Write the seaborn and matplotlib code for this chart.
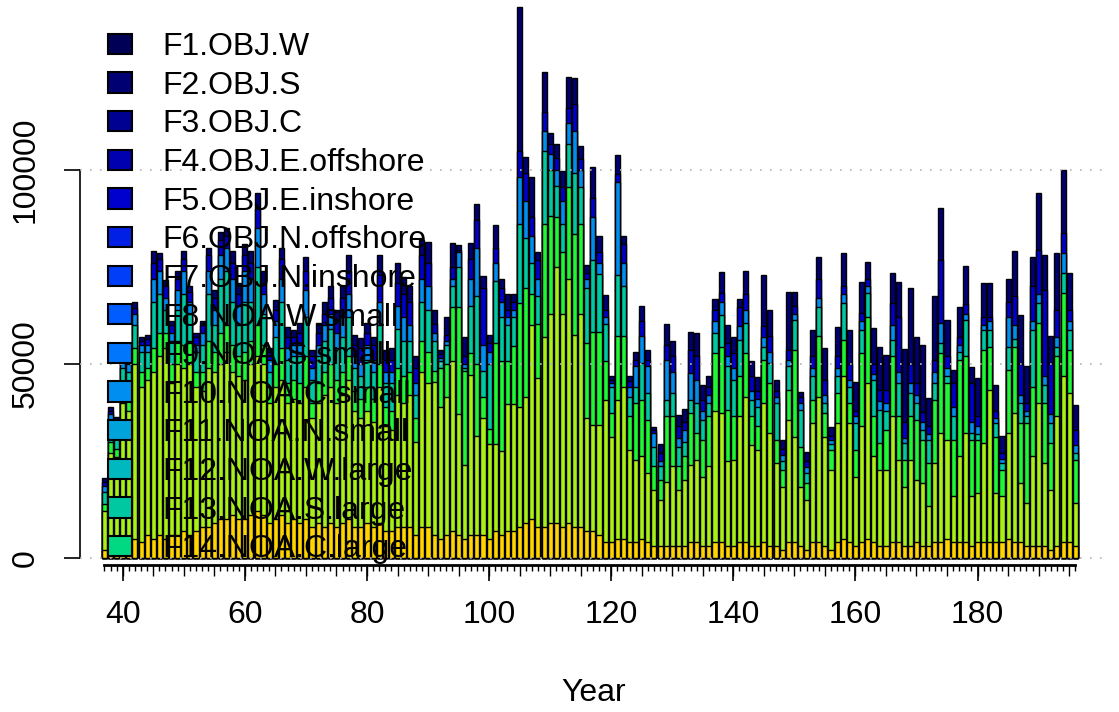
import matplotlib
matplotlib.use("Agg")
import matplotlib.pyplot as plt
from matplotlib.patches import Patch
import pandas as pd
import seaborn as sns

years = list(range(37, 197))

gold_top = [
    2, 3, 3, 4, 4, 5, 4, 6, 5, 6,
    5, 6, 6, 7, 6, 7, 8, 8, 9, 10,
    10, 11, 10, 10, 11, 12, 11, 9, 10, 11,
    9, 10, 9, 10, 8, 9, 8, 9, 8, 9,
    10, 8, 8, 9, 8, 9, 7, 7, 8, 8,
    8, 6, 8, 8, 6, 5, 6, 7, 6, 5,
    6, 6, 6, 5, 7, 6, 7, 7, 8, 9,
    10, 8, 8, 9, 9, 8, 9, 8, 8, 7,
    7, 6, 4, 4, 5, 5, 4, 4, 5, 4,
    3, 3, 3, 3, 3, 3, 4, 4, 3, 3,
    4, 4, 3, 3, 4, 4, 3, 3, 4, 3,
    3, 2, 4, 4, 3, 2, 4, 4, 3, 2,
    4, 5, 4, 3, 4, 5, 4, 3, 3, 4,
    4, 3, 3, 4, 3, 3, 4, 4, 5, 4,
    4, 4, 3, 4, 4, 4, 4, 4, 5, 4,
    4, 3, 3, 3, 3, 2, 3, 4, 4, 3,
]
lime_top = [
    12, 27, 26, 40, 38, 50, 44, 46, 48, 52,
    54, 45, 50, 49, 50, 44, 43, 49, 48, 50,
    53, 48, 47, 46, 50, 52, 50, 40, 44, 46,
    40, 41, 40, 44, 36, 40, 42, 44, 40, 42,
    46, 38, 36, 38, 35, 44, 34, 33, 42, 40,
    42, 30, 48, 45, 45.3, 38.8, 41.6, 50.9, 37, 24,
    47.2, 31.4, 36, 29.5, 29.5, 27.7, 39.8, 39.8, 38.8, 41.6,
    60, 46.3, 57, 63, 75, 63, 72, 57.4, 63, 36,
    34.2, 34.2, 40.7, 31.3, 40.8, 44.2, 27.9, 25.3, 26.2, 21.9,
    17.6, 15, 19.7, 23.6, 17.6, 20.2, 24, 25.3, 21, 23.6,
    37.8, 37.3, 24.9, 25.3, 36.5, 41.6, 29.2, 27.9, 39.9, 32.2,
    24.5, 18.4, 35.6, 31.3, 18.4, 15, 34.8, 41.6, 31.3, 22.7,
    34.8, 46.8, 34.8, 21, 33.9, 45.1, 26.2, 22.7, 22.7, 36.5,
    25.3, 18.4, 25.3, 20.2, 19.3, 13.3, 24.5, 32.2, 30.5, 15.9,
    26.2, 32.2, 15.9, 16.7, 29.6, 43.4, 16.7, 15.9, 32.2, 37.3,
    19.3, 14.1, 26.2, 39.9, 24.5, 17.6, 36.5, 46.8, 42.5, 14.1,
]
green_top = [
    14, 30, 28, 44, 42, 54, 48, 49, 54, 58,
    58, 50, 56, 55, 56, 48, 48, 56, 53, 58,
    60, 55, 52, 53, 56, 60, 55, 44, 50, 54,
    45, 46, 45, 52, 40, 45, 48, 50, 46, 48,
    52, 43, 41, 44, 41, 50, 39, 38, 49, 47,
    48, 36, 56, 53, 48.1, 49, 50, 64.8, 64.8, 48.1,
    52.8, 50, 41.6, 33.2, 55.5, 50.9, 50.9, 54.6, 65.8, 69.5,
    68, 60.2, 86.2, 88.1, 88, 78.8, 95.5, 83.4, 86.2, 55.5,
    58.3, 58.3, 50.9, 37.3, 57.1, 57.1, 36.5, 39.9, 40.8, 35.6,
    23.6, 20.2, 36.5, 36.5, 23.6, 26.2, 37.3, 32.2, 30.5, 36.5,
    52.8, 54.5, 38.2, 36.5, 46.8, 52.8, 36.5, 33.9, 51.1, 45.1,
    30.5, 22.7, 43.4, 53.7, 28.7, 19.3, 40.8, 57.1, 37.3, 27.9,
    42.5, 56.2, 39.9, 27.9, 52.8, 62.2, 36.5, 29.6, 33.1, 52,
    36.5, 25.3, 36.5, 35.6, 30.5, 24.5, 40.8, 52.8, 45.1, 30.5,
    51.1, 52, 30.5, 30.5, 53.7, 54.5, 31.3, 22.7, 48.5, 54.5,
    34.8, 34.8, 44.2, 60.5, 39.9, 29.6, 52, 68.3, 53.7, 25.3,
]
teal_top = [
    17, 35, 33, 49, 48, 60, 53, 53, 66, 68,
    64, 56, 64, 68, 63, 53, 55, 68, 60, 72,
    74, 66, 60, 66, 66, 75, 63, 48, 57, 66,
    51, 52, 52, 62, 46, 52, 56, 59, 54, 57,
    62, 49, 47, 51, 48, 60, 45, 45, 59, 56,
    56, 42, 66, 64, 56, 50.9, 55, 70, 75, 49,
    65, 67.6, 48.1, 50, 71.3, 62.1, 60, 62.1, 86.2, 82.5,
    76, 67.6, 104.8, 100, 96, 86.2, 106.7, 99.2, 95.5, 69.5,
    76.9, 73.2, 60.2, 44.2, 73, 70, 41.6, 44.2, 50.2, 42.5,
    28.7, 23.6, 40.8, 42.5, 28.7, 30, 40.8, 40, 35.6, 40,
    57.9, 62.7, 49.4, 46, 56.2, 60.5, 40.8, 39, 54.5, 50.2,
    39.9, 25, 49.4, 61.4, 38.2, 22, 46.8, 64.8, 40, 29.5,
    46.8, 65.7, 44, 34.8, 58.8, 68.3, 45.9, 38.2, 38, 56.2,
    45.1, 29.6, 42.5, 39.9, 33, 30.5, 45, 55.5, 47, 36.5,
    53, 61.4, 32.2, 32, 58.8, 58.8, 34.8, 24.5, 54.5, 56.5,
    39.9, 36.5, 58.8, 65.7, 44.5, 34.8, 54.5, 73.4, 58.8, 27,
]
lblue_top = [
    18.5, 37, 34.5, 51, 50, 63, 55, 55, 72, 74,
    67, 58, 69, 74, 66, 55, 58, 74, 64, 78,
    80, 72, 65, 74, 72, 85, 68, 51, 61, 72,
    54, 55, 55, 69, 49, 55, 60, 63, 58, 62,
    68, 52, 50, 55, 51, 66, 48, 48, 65, 62,
    60, 45, 72, 70, 58, 51.5, 56, 72, 78.8, 50,
    72, 80, 55, 53, 76, 66, 62, 64, 98.3, 92,
    83, 72, 110, 104, 100, 92, 112, 110, 100, 72,
    88, 76, 62, 45, 97, 76, 44, 49.4, 57.1, 49.4,
    32.2, 25, 51.1, 48, 31, 33, 47.6, 46, 38, 42,
    61, 66, 52, 49, 59.7, 64, 43, 41, 57, 53,
    41.5, 26.5, 51, 63, 40, 23.5, 49, 67, 42, 30.5,
    49, 68, 46, 36.5, 61, 70, 47.5, 40.5, 40, 60,
    48, 31, 45, 42, 35, 32, 48, 60.5, 49, 39,
    55, 63, 35, 34, 60, 61, 36, 25.5, 62.2, 60,
    42, 38, 61, 68, 47, 37, 57, 78.6, 61, 29,
]
dblue_top = [
    19.5, 38, 35.5, 52, 51, 64.5, 56, 56.5, 76, 77,
    70, 60, 72, 77, 68.5, 57, 60, 78, 67, 82,
    83, 76, 68, 78, 76, 90, 71, 53, 64, 77,
    57, 57, 58, 74, 52, 58, 63, 67, 61, 67,
    74, 55, 54, 58, 55, 73, 51, 51, 71, 68,
    66, 49, 78, 76, 60.2, 52.5, 57.4, 75, 79.5, 52,
    77, 87.1, 69.5, 55.5, 80, 69.5, 64, 66, 104.8, 99.2,
    88, 76.9, 115, 106.7, 103, 95.5, 116, 116.9, 102.9, 73.5,
    92.7, 78.8, 64, 46, 99, 81, 45.5, 51, 61, 51,
    33, 27, 55, 52, 33.9, 35, 53.6, 52, 40.8, 44,
    63.9, 68.2, 55.4, 52.8, 64.8, 68, 46.8, 43, 59.7, 57.1,
    43, 28, 53.7, 65, 41.5, 25, 52, 72, 46, 31.5,
    52, 70, 50, 38, 63.1, 72, 50, 43.4, 43.4, 65.7,
    62, 35, 50, 45, 37.5, 33.9, 51.1, 76.9, 52, 45.1,
    57, 65.5, 45.1, 36.5, 62, 62.2, 38, 27, 66, 67.4,
    50, 40, 70, 79.4, 69.1, 50.2, 64, 83.7, 64, 33,
]
total = [
    20.6, 39, 36.4, 53, 52, 66, 57, 57.5, 79, 78.6,
    71.6, 61, 74, 79, 70, 58, 61, 80, 69, 84,
    85, 79, 71, 81, 79, 94, 74, 54, 66.5, 80,
    59.6, 58.8, 60.5, 77.7, 53.6, 60.5, 66, 70, 64, 70,
    78, 57.5, 56.6, 60.5, 57, 78, 53.6, 54, 76, 72.5,
    70, 52, 82, 81.5, 63.9, 53.7, 62.1, 81.1, 80.7, 57,
    81.1, 91.3, 72.8, 57.4, 85.8, 71.8, 68.1, 68.1, 142.1, 103.4,
    98.3, 78.8, 125.2, 109.5, 106.7, 99.7, 124, 123.8, 106.2, 75.5,
    100.9, 83, 67.7, 47, 103.8, 83, 47, 53, 65, 53.6,
    33.8, 29.5, 60.3, 56, 36.9, 38.3, 58.3, 58.1, 44.6, 47,
    66.7, 73.8, 60, 57, 66.8, 74, 50.9, 46.7, 72.9, 63.9,
    45.9, 30.4, 68.6, 68.6, 42.9, 27.4, 58.8, 77.7, 54, 33.8,
    59.6, 78.5, 58.8, 45.4, 71.2, 76.4, 59.2, 54.5, 52.3, 73.5,
    71.2, 53.8, 69.5, 57, 54.9, 41.2, 67.4, 90.1, 61.3, 48.5,
    64.8, 75.3, 49.1, 46.3, 70.8, 70.8, 44.6, 31.4, 71.8, 79.2,
    62.6, 49.5, 77.7, 94.2, 78.1, 57.2, 78.5, 100, 73.5, 39.4,
]

fleet_labels = ["F1.OBJ.W", "F2.OBJ.S", "F3.OBJ.C", "F4.OBJ.E.offshore",
                "F5.OBJ.E.inshore", "F6.OBJ.N.offshore", "F7.OBJ.N.inshore",
                "F8.NOA.W.small", "F9.NOA.S.small", "F10.NOA.C.small",
                "F11.NOA.N.small", "F12.NOA.W.large", "F13.NOA.S.large",
                "F14.NOA.C.large"]
fleet_colors = ["#000057", "#000073", "#000091", "#0000B0", "#0000CE", "#0020E6",
                "#003FF7", "#005CFF", "#0076FC", "#008FF0", "#00A4DB", "#00B8BF",
                "#00C9A1", "#01D882"]

df = pd.DataFrame({
    "year": years,
    "gold": gold_top, "lime": lime_top, "green": green_top, "teal": teal_top,
    "lblue": lblue_top, "dblue": dblue_top, "total": total,
})
for col in ["gold", "lime", "green", "teal", "lblue", "dblue", "total"]:
    df[col] = df[col] * 1000

# drawn from the top band down so each band covers the one above it
layers = [("total", "#000073"), ("dblue", "#0000CE"), ("lblue", "#008FF0"),
          ("teal", "#00C9A1"), ("green", "#1FF635"), ("lime", "#A8F018"),
          ("gold", "#FFD400")]

sns.set_style("ticks")
plt.rcParams["font.family"] = ["Liberation Sans", "DejaVu Sans"]
plt.rcParams.update({"text.color": "black", "axes.labelcolor": "black",
                     "xtick.color": "black", "ytick.color": "black",
                     "axes.edgecolor": "black"})

W, H = 1119, 712
fig = plt.figure(figsize=(W / 100, H / 100), dpi=100)
ax = fig.add_axes([80 / W, 1 - 565 / H, (1107 - 80) / W, 565 / H])

for col, c in layers:
    sns.barplot(data=df, x="year", y=col, native_scale=True, color=c,
                saturation=1, width=0.83, edgecolor="black", linewidth=1.0,
                errorbar=None, ax=ax)

for v in [0, 50000, 100000]:
    ax.axhline(v, color="#B5B5B5", lw=1.2, ls=(0, (1, 5)), zorder=3)

ax.set_xlim(33, 201.2)
ax.set_ylim(-1804, 143814)

sns.despine(ax=ax)
ax.spines["left"].set_bounds(0, 100000)
ax.spines["bottom"].set_bounds(37, 196)
ax.spines["bottom"].set_linewidth(2.0)
ax.spines["left"].set_linewidth(1.2)

ax.set_yticks([0, 50000, 100000])
ax.set_yticklabels(["0", "50000", "100000"], rotation=90, va="center")
ax.tick_params(axis="y", length=11.5, width=1.2, labelsize=23, pad=17)

ax.set_xticks(list(range(40, 196, 5)))
ax.set_xticks(years, minor=True)
ax.tick_params(axis="x", which="major", length=8, width=1.0, labelbottom=False)
ax.tick_params(axis="x", which="minor", length=4, width=1.0)

sec = ax.secondary_xaxis("bottom")
sec.set_xticks(list(range(40, 181, 20)))
sec.tick_params(length=11.5, width=1.2, labelsize=23, pad=13.5)
sec.spines["bottom"].set_visible(False)
sec.set_xlabel("Year", fontsize=23, labelpad=35)
ax.set_xlabel("")
ax.set_ylabel("")

handles = [Patch(facecolor=c, edgecolor="black", linewidth=1.5) for c in fleet_colors]
ax.legend(handles, fleet_labels, loc="upper left", bbox_to_anchor=(0.0273, 0.943),
          frameon=False, fontsize=23, handlelength=0.75, handleheight=0.6,
          handletextpad=0.95, labelspacing=0.27, borderaxespad=0, borderpad=0)

fig.savefig("out.png", dpi=100)
